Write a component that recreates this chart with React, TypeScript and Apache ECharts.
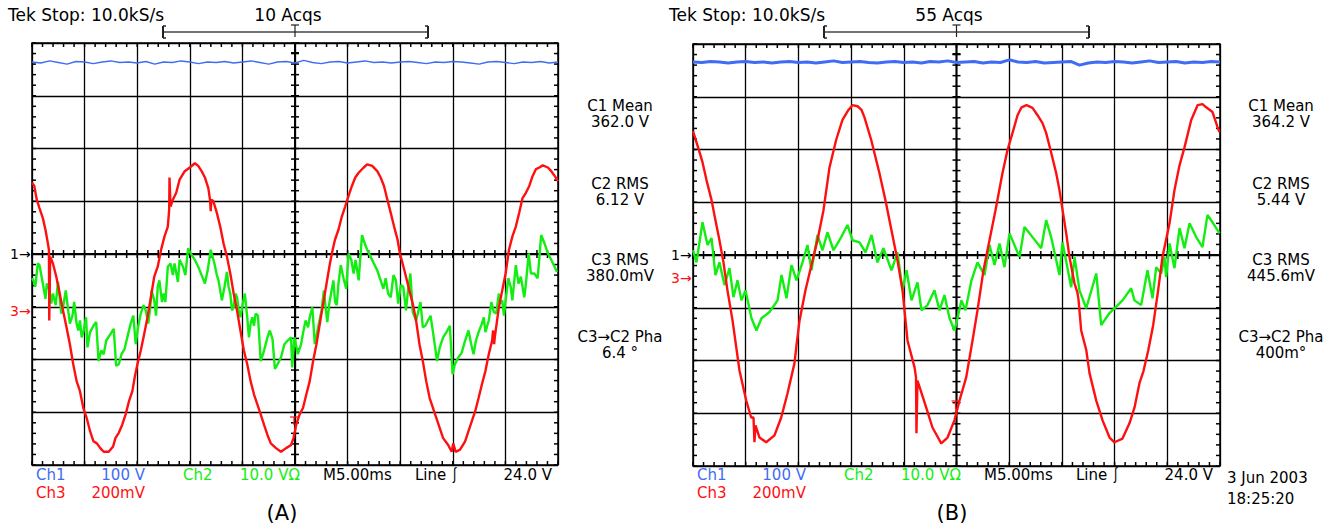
import React, { useEffect, useRef } from "react";
import * as echarts from "echarts";

// time in ms (5 ms/div, trigger at 0), vertical position in screen divisions
const blueA = [3.64,3.62,3.66,3.63,3.60,3.65,3.64,3.61,3.64,3.66,3.63,3.64,3.62,3.65,3.60,3.64,3.63,3.66,3.64,3.61,3.64,3.63,3.65,3.62,3.64,3.66,3.63,3.60,3.64,3.65,3.62,3.67,3.63,3.61,3.64,3.65,3.62,3.64,3.66,3.63,3.64,3.62,3.64,3.65,3.63,3.61,3.64,3.63,3.65,3.64,3.62,3.60,3.64,3.65,3.63,3.61,3.64,3.63,3.65,3.62,3.64];
const blueB = [3.66,3.65,3.67,3.66,3.64,3.66,3.67,3.65,3.66,3.64,3.66,3.67,3.65,3.66,3.64,3.66,3.68,3.65,3.66,3.67,3.65,3.64,3.66,3.67,3.65,3.66,3.64,3.67,3.66,3.68,3.65,3.66,3.67,3.64,3.66,3.65,3.70,3.66,3.65,3.67,3.64,3.65,3.66,3.67,3.60,3.64,3.66,3.65,3.67,3.66,3.64,3.66,3.68,3.65,3.66,3.67,3.64,3.66,3.65,3.67,3.66];

const redA: [number, number][] = [
[-25,1.35],[-24.78,1.29],[-24.55,1.03],[-24.29,0.87],[-23.97,0.68],[-23.72,0.46],[-23.55,0.27],[-23.39,0.08],[-23.36,-1.26],[-23.3,-1.26],[-23.27,-0.05],
[-23.01,-0.18],[-22.69,-0.43],[-22.37,-0.75],[-22.05,-1.07],[-21.72,-1.39],[-21.4,-1.71],[-21.08,-2.09],[-20.76,-2.41],[-20.44,-2.6],[-20.12,-2.92],[-19.8,-3.11],[-19.48,-3.36],[-19.16,-3.55],[-18.83,-3.59],[-18.51,-3.68],[-18.19,-3.75],[-17.71,-3.75],[-17.29,-3.65],[-17.07,-3.49],[-16.75,-3.39],[-16.43,-3.24],[-16.1,-3.04],[-15.78,-2.79],[-15.46,-2.6],[-15.24,-2.34],[-14.98,-2.09],[-14.66,-1.83],[-14.34,-1.52],[-14.02,-1.2],[-13.7,-0.82],[-13.38,-0.43],[-13.05,-0.24],[-12.73,0.08],[-12.41,0.33],[-12.09,0.52],[-11.96,0.84],[-11.93,1.45],[-11.83,0.9],[-11.61,1.03],[-11.29,1.16],[-10.97,1.41],[-10.48,1.57],[-10,1.64],[-9.52,1.72],[-9.2,1.67],[-8.88,1.57],[-8.56,1.45],[-8.24,1.25],[-8.08,1.03],[-8.01,0.81],[-7.95,1.03],[-7.76,1.0],[-7.43,0.78],[-7.11,0.52],[-6.79,0.2],[-6.47,-0.05],[-6.15,-0.37],[-5.83,-0.75],[-5.51,-1.07],[-5.19,-1.45],[-4.86,-1.83],[-4.54,-2.09],[-4.22,-2.41],[-3.9,-2.66],[-3.58,-2.85],[-3.26,-3.04],[-2.94,-3.24],[-2.62,-3.43],[-2.3,-3.59],[-1.81,-3.68],[-1.33,-3.75],[-0.85,-3.68],[-0.37,-3.62],[-0.14,-3.49],[0.11,-3.24],[0.44,-3.04],[0.76,-2.92],[1.08,-2.66],[1.4,-2.41],[1.72,-2.03],[2.04,-1.71],[2.36,-1.32],[2.68,-0.94],[3.0,-0.56],[3.32,-0.18],[3.58,0.08],[3.8,0.27],[4.13,0.46],[4.45,0.71],[4.77,0.9],[5.09,1.1],[5.41,1.29],[5.73,1.45],[6.05,1.54],[6.53,1.64],[6.86,1.7],[7.34,1.67],[7.82,1.57],[8.14,1.45],[8.46,1.29],[8.78,1.03],[9.1,0.78],[9.42,0.52],[9.75,0.27],[9.97,0.01],[10.23,-0.18],[10.55,-0.43],[10.87,-0.69],[11.19,-0.94],[11.51,-1.26],[11.83,-1.71],[12.15,-2.03],[12.47,-2.41],[12.8,-2.73],[13.12,-2.92],[13.44,-3.11],[13.76,-3.3],[14.08,-3.49],[14.56,-3.62],[14.89,-3.75],[15.04,-3.59],[15.27,-3.75],[15.69,-3.71],[16.17,-3.55],[16.49,-3.36],[16.81,-3.17],[17.13,-2.98],[17.45,-2.73],[17.77,-2.47],[18.1,-2.22],[18.42,-1.9],[18.74,-1.64],[18.83,-1.45],[18.93,-1.71],[18.99,-1.58],[19.38,-1.01],[19.7,-0.69],[20.02,-0.37],[20.34,0.08],[20.66,0.33],[20.99,0.52],[21.31,0.78],[21.63,1.06],[21.95,1.16],[22.27,1.29],[22.59,1.48],[22.91,1.61],[23.23,1.64],[23.55,1.68],[24.04,1.64],[24.36,1.57],[24.68,1.48],[25,1.38]
];

const greenA: [number, number][] = [
[-25,-0.46],[-24.87,-0.5],[-24.68,-0.62],[-24.45,-0.18],[-24.29,-0.21],[-23.97,-0.56],[-23.72,-0.85],[-23.59,-0.56],[-23.33,-0.69],[-23.17,-0.94],[-23.01,-0.75],[-22.75,-0.97],[-22.53,-0.53],[-22.37,-0.82],[-22.21,-1.13],[-22.05,-1.01],[-21.79,-0.69],[-21.56,-1.07],[-21.4,-1.32],[-21.15,-1.17],[-20.99,-0.91],[-20.76,-1.32],[-20.6,-1.45],[-20.44,-1.26],[-20.28,-1.58],[-20.12,-1.48],[-19.86,-1.2],[-19.73,-1.77],[-19.48,-1.48],[-19.16,-1.36],[-18.9,-1.29],[-18.67,-2.03],[-18.42,-1.83],[-18.19,-1.9],[-17.94,-1.64],[-17.55,-1.52],[-17.23,-1.42],[-17.0,-2.12],[-16.75,-2.09],[-16.49,-1.9],[-16.2,-1.8],[-15.94,-1.58],[-15.62,-1.32],[-15.37,-1.17],[-15.14,-1.71],[-14.92,-1.39],[-14.66,-1.13],[-14.4,-0.97],[-14.18,-1.07],[-13.95,-1.32],[-13.76,-1.01],[-13.63,-0.69],[-13.38,-0.88],[-13.21,-1.17],[-13.05,-0.62],[-12.89,-0.5],[-12.64,-0.91],[-12.48,-0.75],[-12.32,-0.91],[-12.09,-0.24],[-11.83,-0.18],[-11.61,-0.4],[-11.45,-0.18],[-11.13,-0.53],[-10.97,-0.11],[-10.65,-0.24],[-10.42,-0.4],[-10.16,0.11],[-9.91,0.01],[-9.52,-0.11],[-9.2,-0.24],[-8.88,-0.4],[-8.56,-0.56],[-8.3,-0.31],[-8.01,0.08],[-7.66,-0.18],[-7.43,-0.4],[-7.27,-0.5],[-6.95,-0.88],[-6.7,-0.62],[-6.47,-0.34],[-6.31,-0.62],[-6.15,-0.75],[-5.99,-1.07],[-5.83,-1.01],[-5.67,-0.75],[-5.51,-0.82],[-5.35,-1.07],[-5.19,-1.2],[-5.03,-1.01],[-4.77,-0.75],[-4.54,-1.2],[-4.38,-1.58],[-4.22,-1.32],[-4.06,-1.2],[-3.9,-1.36],[-3.74,-1.13],[-3.52,-1.17],[-3.26,-2.03],[-2.94,-1.83],[-2.62,-1.58],[-2.39,-1.45],[-2.14,-1.61],[-1.91,-2.18],[-1.66,-2.09],[-1.33,-1.96],[-1.01,-1.71],[-0.69,-1.64],[-0.37,-1.58],[-0.27,-2.15],[-0.05,-1.58],[0.27,-1.9],[0.58,-1.71],[0.81,-1.45],[1.01,-1.26],[1.24,-1.39],[1.4,-1.2],[1.65,-1.01],[1.88,-1.71],[2.2,-1.39],[2.52,-1.07],[2.75,-0.69],[2.94,-1.07],[3.07,-1.29],[3.26,-0.94],[3.48,-0.69],[3.65,-0.5],[3.81,-0.91],[3.97,-0.97],[4.13,-0.56],[4.35,-0.21],[4.61,-0.46],[4.87,-0.66],[5.09,0.01],[5.35,-0.11],[5.57,-0.37],[5.76,-0.11],[6.05,-0.5],[6.37,0.36],[6.63,0.2],[6.86,0.08],[7.18,-0.05],[7.5,-0.18],[7.82,-0.31],[8.14,-0.5],[8.4,-0.66],[8.62,-0.46],[8.85,-0.75],[9.1,-0.82],[9.36,-0.4],[9.59,-0.5],[9.81,-0.94],[10.06,-0.59],[10.29,-0.62],[10.55,-1.07],[10.71,-0.75],[10.97,-0.37],[11.19,-1.1],[11.51,-1.26],[11.67,-1.13],[11.93,-0.91],[12.15,-1.39],[12.38,-1.36],[12.64,-1.26],[12.89,-1.17],[13.05,-1.39],[13.28,-1.71],[13.5,-2.03],[13.76,-1.77],[14.08,-1.58],[14.4,-1.48],[14.72,-1.36],[14.98,-2.28],[15.2,-2.09],[15.53,-1.96],[15.85,-1.87],[16.17,-1.64],[16.49,-1.45],[16.75,-1.71],[16.97,-1.9],[17.2,-1.64],[17.45,-1.48],[17.77,-1.32],[17.94,-1.2],[18.1,-1.48],[18.42,-1.26],[18.67,-0.91],[18.9,-1.1],[19.12,-1.13],[19.38,-0.75],[19.54,-0.94],[19.7,-0.88],[19.86,-1.17],[20.02,-0.88],[20.28,-0.46],[20.5,-0.62],[20.66,-0.88],[20.99,-0.21],[21.24,-0.56],[21.47,-0.43],[21.79,-0.82],[21.95,-0.56],[22.21,0.01],[22.43,-0.37],[22.75,-0.37],[23.07,-0.46],[23.4,0.36],[23.72,0.2],[24.04,0.01],[24.36,-0.11],[24.9,-0.34]
];

const redB: [number, number][] = [
[-25,2.35],[-24.38,1.95],[-24.1,1.76],[-23.72,1.42],[-23.24,1.04],[-22.87,0.66],[-22.49,0.28],[-22.11,-0.14],[-21.73,-0.67],[-21.25,-1.24],[-20.59,-2.19],[-19.95,-2.76],[-19.48,-3.08],[-19.26,-3.08],[-19.17,-3.55],[-19.07,-3.23],[-18.69,-3.46],[-18.06,-3.55],[-17.27,-3.42],[-16.63,-3.08],[-16.03,-2.62],[-15.37,-2.05],[-15.18,-1.71],[-14.89,-1.24],[-14.33,-0.67],[-13.76,-0.19],[-13.19,0.28],[-12.62,0.85],[-12.05,1.66],[-11.42,2.18],[-10.82,2.56],[-10.25,2.75],[-9.87,2.84],[-9.39,2.82],[-9.01,2.75],[-8.73,2.61],[-8.09,2.18],[-7.31,1.55],[-6.74,1.04],[-6.17,0.47],[-5.6,-0.1],[-5.12,-0.67],[-4.65,-1.62],[-3.98,-2.13],[-3.84,-2.32],[-3.8,-3.38],[-3.7,-2.38],[-2.88,-2.89],[-2.28,-3.27],[-1.45,-3.57],[-0.85,-3.46],[-0.19,-3.13],[0.28,-2.76],[0.92,-2.32],[1.52,-1.62],[1.99,-1.05],[2.56,-0.29],[3.13,0.28],[3.7,0.85],[4.36,1.55],[4.84,1.99],[5.31,2.31],[5.79,2.65],[6.17,2.8],[6.64,2.84],[7.21,2.79],[7.69,2.65],[8.16,2.5],[8.51,2.31],[8.92,1.99],[9.46,1.55],[9.77,1.23],[10.41,0.41],[10.72,-0.04],[11.2,-0.54],[11.48,-0.72],[11.58,-0.85],[11.83,-1.43],[12.31,-1.8],[12.62,-2.24],[13.26,-2.76],[13.85,-3.13],[14.52,-3.46],[14.99,-3.55],[15.75,-3.48],[16.41,-3.19],[16.89,-2.89],[17.36,-2.43],[17.74,-2.2],[18.19,-1.81],[18.66,-1.33],[19.13,-0.67],[19.54,-0.04],[20.21,0.6],[20.68,1.23],[21.16,1.7],[21.63,2.04],[22.27,2.56],[22.87,2.84],[23.34,2.86],[23.69,2.8],[24.29,2.71],[24.76,2.43],[24.95,2.33]
];

const greenB: [number, number][] = [
[-25,0.09],[-24.67,-0.14],[-24.1,0.62],[-23.62,0.19],[-23.24,0.32],[-22.87,-0.38],[-22.49,-0.14],[-22.01,-0.57],[-21.54,-0.25],[-21.16,-0.8],[-20.78,-0.48],[-20.4,-0.86],[-20.02,-0.67],[-19.45,-1.2],[-18.98,-1.43],[-18.5,-1.2],[-17.74,-1.08],[-16.98,-0.86],[-16.6,-0.38],[-16.13,-0.82],[-15.65,-0.19],[-15.18,-0.48],[-14.61,-0.14],[-14.14,0.19],[-13.76,-0.29],[-13.19,0.38],[-12.71,0.09],[-12.24,0.43],[-11.67,0.09],[-11.1,0.28],[-10.34,0.57],[-9.87,0.28],[-9.2,0.24],[-8.63,0.05],[-8.06,0.38],[-7.5,-0.14],[-6.93,0.13],[-6.17,-0.29],[-5.6,0.05],[-5.12,-0.67],[-4.74,-0.29],[-4.27,-0.86],[-3.7,-0.52],[-3.32,-1.05],[-2.75,-0.95],[-2.09,-0.67],[-1.61,-1.05],[-1.14,-0.76],[-0.66,-1.2],[-0.19,-1.43],[0.09,-1.2],[0.47,-0.86],[0.85,-1.05],[1.42,-0.48],[1.99,-0.14],[2.66,-0.38],[3.13,0.19],[3.61,-0.19],[4.08,0.22],[4.55,-0.23],[5.03,0.41],[5.98,-0.04],[6.45,0.53],[6.93,0.41],[8.04,0.13],[8.51,0.66],[8.98,0.34],[9.77,-0.38],[10.06,0.24],[10.88,-0.61],[11.2,-0.04],[11.67,-0.67],[12.31,-1.01],[13.26,-0.35],[13.73,-1.33],[14.52,-1.1],[15.75,-0.86],[16.57,-0.63],[16.89,-0.86],[17.52,-0.95],[18.12,-0.29],[18.6,-0.82],[18.95,-0.23],[19.42,-0.35],[19.73,-0.04],[19.89,-0.42],[20.21,0.22],[20.68,-0.25],[21.16,0.51],[21.63,0.13],[22.11,0.6],[22.74,0.34],[23.34,0.15],[23.81,0.76],[24.29,0.62],[24.76,0.47],[24.95,0.41]
];

const measA = [["C1 Mean", "362.0 V"], ["C2 RMS", "6.12 V"], ["C3 RMS", "380.0mV"], ["C3\u2192C2 Pha", "6.4 \u00b0"]];
const measB = [["C1 Mean", "364.2 V"], ["C2 RMS", "5.44 V"], ["C3 RMS", "445.6mV"], ["C3\u2192C2 Pha", "400m\u00b0"]];
const acqs = ["10 Acqs", "55 Acqs"];
const panelLabels = ["(A)", "(B)"];
const ch3MarkerDiv = [-1.08, -0.43];

// graticule minor-tick positions: 0.2 div steps (1 ms horizontally)
const timeTicks: number[] = [];
for (let k = -25; k <= 25; k++) timeTicks.push(k);
const divTicks: number[] = [];
for (let k = -20; k <= 20; k++) divTicks.push(k / 5);

const BLUE = "#3f6cf4";
const RED = "#ff1010";
const GREEN = "#12ee12";
const FONT = '"DejaVu Sans", Verdana, sans-serif';

const GRIDS = [
  { left: 32, top: 43, width: 526, height: 422 },
  { left: 693, top: 44, width: 527, height: 422 },
];

function toPairs(vals: number[]): [number, number][] {
  const n = vals.length - 1;
  return vals.map((v, i) => [-25 + (50 * i) / n, v]);
}

function txt(text: string, x: number, y: number, opts: any = {}) {
  return {
    type: "text",
    silent: true,
    style: {
      text, x, y,
      fill: opts.fill || "#000",
      font: opts.font || `16px ${FONT}`,
      textAlign: opts.align || "left",
      textVerticalAlign: "middle",
      align: opts.align || "left",
      verticalAlign: "middle",
    },
  };
}

function ln(x1: number, y1: number, x2: number, y2: number, color = "#333", w = 1.5) {
  return { type: "line", silent: true, shape: { x1, y1, x2, y2 }, style: { stroke: color, lineWidth: w } };
}

function panelGraphics(p: number) {
  const g = GRIDS[p];
  const dx = g.left - GRIDS[0].left;
  const cx = g.left + g.width / 2;
  const cy = g.top + g.height / 2;
  const div = g.height / 8;
  const els: any[] = [];
  els.push(txt("Tek Stop: 10.0kS/s", 8 + dx, 15, { font: `17px ${FONT}` }));
  els.push(txt(acqs[p], 288 + dx, 15, { align: "center", font: `17px ${FONT}` }));
  // record-length bracket
  const bx1 = 163 + dx, bx2 = 428 + dx, by = 32;
  els.push(ln(bx1, by, bx2, by, "#444", 1.5));
  els.push(ln(bx1, by - 6, bx1, by + 6, "#222", 2));
  els.push(ln(bx1, by - 6, bx1 + 3, by - 6, "#222", 1.5));
  els.push(ln(bx1, by + 6, bx1 + 3, by + 6, "#222", 1.5));
  els.push(ln(bx2, by - 6, bx2, by + 6, "#222", 2));
  els.push(ln(bx2, by - 6, bx2 - 3, by - 6, "#222", 1.5));
  els.push(ln(bx2, by + 6, bx2 - 3, by + 6, "#222", 1.5));
  els.push(ln(cx, by - 7, cx, by + 5, "#222", 1.2));
  els.push(ln(cx - 4, by - 7, cx + 4, by - 7, "#222", 1.2));
  // trigger position marker in the graticule
  els.push(ln(cx - 4, g.top + 10, cx + 4, g.top + 10, "#000", 2));
  // trigger level marker (red)
  const ty = p === 0 ? 417 : 401;
  els.push(ln(cx - 5, ty, cx + 3, ty, RED, 1.2));
  els.push(ln(cx - 1, ty, cx - 1, ty + 8, RED, 1.2));
  // channel ground markers
  els.push(txt("1\u2192", g.left - 22, cy, { font: `14px ${FONT}` }));
  els.push(txt("3\u2192", g.left - 22, cy - ch3MarkerDiv[p] * div, { font: `14px ${FONT}`, fill: RED }));
  // measurements
  const mx = p === 0 ? 620 : 1281;
  const my = [106, 184, 260, 337];
  (p === 0 ? measA : measB).forEach((m, i) => {
    els.push(txt(m[0], mx, my[i], { align: "center", font: `15px ${FONT}` }));
    els.push(txt(m[1], mx, my[i] + 16, { align: "center", font: `15px ${FONT}` }));
  });
  // bottom readout
  const r1 = 475, r2 = 493;
  const f = `15px ${FONT}`;
  els.push(txt("Ch1", 36 + dx, r1, { fill: BLUE, font: f }));
  els.push(txt("100 V", 145 + dx, r1, { fill: BLUE, align: "right", font: f }));
  els.push(txt("Ch3", 36 + dx, r2, { fill: RED, font: f }));
  els.push(txt("200mV", 145 + dx, r2, { fill: RED, align: "right", font: f }));
  els.push(txt("Ch2", 183 + dx, r1, { fill: GREEN, font: f }));
  els.push(txt("10.0 V\u03a9", 240 + dx, r1, { fill: GREEN, font: f }));
  els.push(txt("M5.00ms", 323 + dx, r1, { font: f }));
  els.push(txt("Line \u23b0", 415 + dx, r1, { font: f }));
  els.push(txt("24.0 V", 552 + dx, r1, { align: "right", font: f }));
  els.push(txt(panelLabels[p], (p === 0 ? 282 : 952), 513, { align: "center", font: `21px ${FONT}` }));
  return els;
}

export default function App() {
  const ref = useRef<HTMLDivElement>(null);
  useEffect(() => {
    document.body.style.margin = "0";
    const chart = echarts.init(ref.current!, undefined, { renderer: "svg" });
    const xAxis = GRIDS.map((_, i) => ({
      type: "value", gridIndex: i, min: -25, max: 25, interval: 5,
      axisLine: { show: false }, axisTick: { show: false }, axisLabel: { show: false },
      splitLine: { show: true, lineStyle: { color: "#000", width: 1.3 } },
    }));
    const yAxis = GRIDS.map((_, i) => ({
      type: "value", gridIndex: i, min: -4, max: 4, interval: 1,
      axisLine: { show: false }, axisTick: { show: false }, axisLabel: { show: false },
      splitLine: { show: true, lineStyle: { color: "#000", width: 1.3 } },
    }));
    const line = (name: string, data: [number, number][], p: number, color: string, width: number) => ({
      name, type: "line", data, xAxisIndex: p, yAxisIndex: p, showSymbol: false, symbol: "none",
      lineStyle: { color, width }, itemStyle: { color }, clip: true, silent: true, z: 3,
    });
    const graphic: any[] = [
      ...panelGraphics(0),
      ...panelGraphics(1),
      txt("3 Jun 2003", 1227, 478, { font: `15px ${FONT}` }),
      txt("18:25:20", 1227, 499, { font: `15px ${FONT}` }),
    ];
    chart.setOption({
      animation: false,
      backgroundColor: "#fff",
      grid: GRIDS.map((g) => ({ ...g, show: true, borderColor: "#000", borderWidth: 1.5, backgroundColor: "transparent" })),
      xAxis,
      yAxis,
      series: [
        line("Ch1 A", toPairs(blueA), 0, BLUE, 1.4),
        line("Ch2 A", greenA, 0, GREEN, 2.4),
        line("Ch3 A", redA, 0, RED, 2.4),
        line("Ch1 B", toPairs(blueB), 1, BLUE, 3),
        line("Ch2 B", greenB, 1, GREEN, 2.4),
        line("Ch3 B", redB, 1, RED, 2.4),
      ],
    });
    // graticule centre lines and minor ticks, positioned through the axes' own scales
    const L = 4;
    const TW = 1.5;
    const tickEls: any[] = [];
    GRIDS.forEach((_, p) => {
      const c = (pt: [number, number]) => chart.convertToPixel({ xAxisIndex: p, yAxisIndex: p } as any, pt) as number[];
      const h1 = c([-25, 0]), h2 = c([25, 0]), v1 = c([0, 4]), v2 = c([0, -4]);
      tickEls.push(ln(h1[0], h1[1], h2[0], h2[1], "#000", 2));
      tickEls.push(ln(v1[0], v1[1], v2[0], v2[1], "#000", 2));
      timeTicks.forEach((t) => {
        const top = c([t, 4]), bot = c([t, -4]), mid = c([t, 0]);
        tickEls.push(ln(top[0], top[1], top[0], top[1] + L, "#000", TW));
        tickEls.push(ln(bot[0], bot[1], bot[0], bot[1] - L, "#000", TW));
        tickEls.push(ln(mid[0], mid[1] - L, mid[0], mid[1] + L, "#000", TW));
      });
      divTicks.forEach((v) => {
        const l = c([-25, v]), r = c([25, v]), mid = c([0, v]);
        tickEls.push(ln(l[0], l[1], l[0] + L, l[1], "#000", TW));
        tickEls.push(ln(r[0], r[1], r[0] - L, r[1], "#000", TW));
        tickEls.push(ln(mid[0] - L, mid[1], mid[0] + L, mid[1], "#000", TW));
      });
    });
    chart.setOption({ graphic: [...tickEls, ...graphic] });
    return () => chart.dispose();
  }, []);
  return <div ref={ref} style={{ width: 1342, height: 529 }} />;
}
